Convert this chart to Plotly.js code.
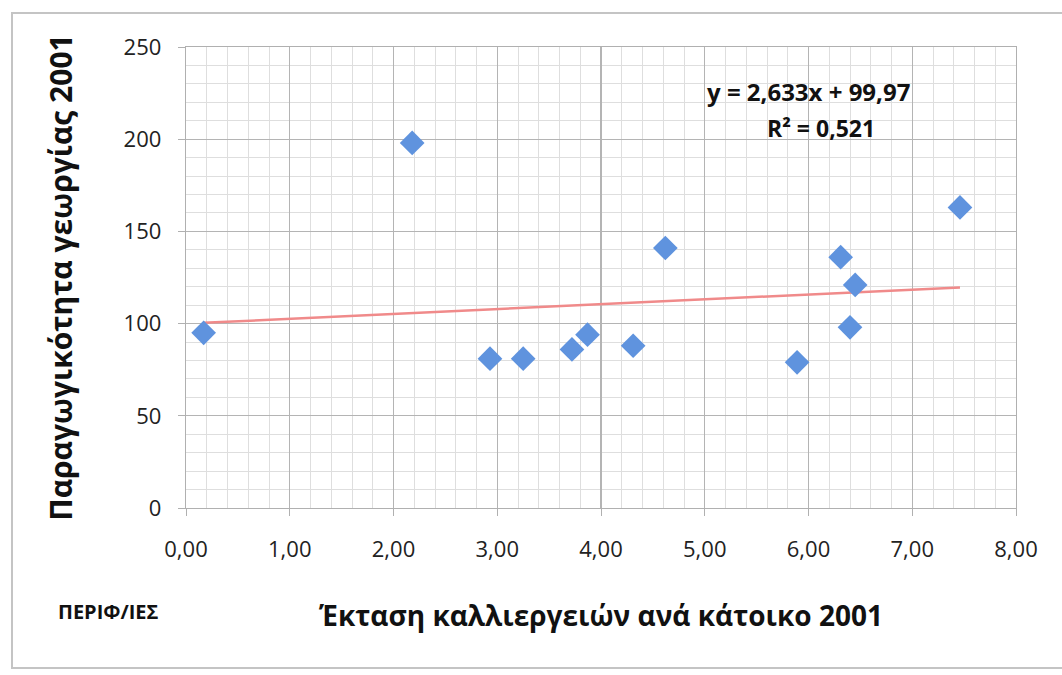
<!DOCTYPE html>
<html>
<head>
<meta charset="utf-8">
<script src="https://cdn.plot.ly/plotly-3.0.1.min.js"></script>
<style>
html,body{margin:0;padding:0;background:#fff;}
#chart{width:1062px;height:675px;}
</style>
</head>
<body>
<div id="chart"></div>
<script>
// Data
const areaPerResident = [0.17, 2.18, 2.93, 3.25, 3.72, 3.87, 4.31, 4.62, 5.89, 6.31, 6.45, 6.40, 7.46];
const productivity    = [95, 198, 81, 81, 86, 94, 88, 141, 79, 136, 121, 98, 163];
const trendSlope = 2.633;
const trendIntercept = 99.97;
const xTickVals = [0, 1, 2, 3, 4, 5, 6, 7, 8];
const xTickText = ["0,00", "1,00", "2,00", "3,00", "4,00", "5,00", "6,00", "7,00", "8,00"];
const yTickVals = [0, 50, 100, 150, 200, 250];
const equationText = "y = 2,633x + 99,97";
const r2Text = "R² = 0,521";
const xTitle = "Έκταση καλλιεργειών ανά κάτοικο 2001";
const yTitle = "Παραγωγικότητα γεωργίας 2001";
const cornerLabel = "ΠΕΡΙΦ/ΙΕΣ";

const xMin = Math.min(...areaPerResident);
const xMax = Math.max(...areaPerResident);
const trendX = [xMin, xMax];
const trendY = trendX.map(v => trendSlope * v + trendIntercept);

const FONT = "'Open Sans', 'Noto Sans', 'DejaVu Sans', sans-serif";

const traces = [
  {
    x: trendX, y: trendY, type: 'scatter', mode: 'lines',
    line: {color: '#f08a8a', width: 2.5},
    hoverinfo: 'skip', showlegend: false
  },
  {
    x: areaPerResident, y: productivity, type: 'scatter', mode: 'markers',
    marker: {symbol: 'diamond', size: 19, color: '#5f93de', line: {width: 0}},
    showlegend: false
  }
];

const layout = {
  width: 1062, height: 675,
  paper_bgcolor: '#ffffff', plot_bgcolor: '#ffffff',
  margin: {l: 186, r: 46, t: 47, b: 167},
  font: {family: FONT, color: '#222'},
  xaxis: {
    range: [0, 8], tickvals: xTickVals, ticktext: xTickText,
    showgrid: true, gridcolor: '#b4b4b4', gridwidth: 1.3,
    minor: {dtick: 0.2, showgrid: true, gridcolor: '#dedede', gridwidth: 1},
    zeroline: false, showline: true, linecolor: '#b0b0b0', linewidth: 1.3, mirror: true,
    ticks: 'outside', ticklen: 7, tickcolor: '#b0b0b0',
    ticklabelstandoff: 14,
    tickfont: {size: 22, family: FONT, color: '#222'},
    title: {text: xTitle, font: {size: 28, family: FONT, color: '#111', weight: 'bold'}, standoff: 44}
  },
  yaxis: {
    range: [0, 250], tickvals: yTickVals,
    showgrid: true, gridcolor: '#b4b4b4', gridwidth: 1.3,
    minor: {dtick: 10, showgrid: true, gridcolor: '#dedede', gridwidth: 1},
    zeroline: false, showline: true, linecolor: '#b0b0b0', linewidth: 1.3, mirror: true,
    ticks: 'outside', ticklen: 7, tickcolor: '#b0b0b0',
    ticklabelstandoff: 12,
    tickfont: {size: 22, family: FONT, color: '#222'},
    title: {text: yTitle, font: {size: 30, family: FONT, color: '#111', weight: 'bold'}, standoff: 42}
  },
  annotations: [
    {x: 6.0, y: 225.6, xref: 'x', yref: 'y', text: equationText, showarrow: false,
     font: {size: 24, family: FONT, color: '#111', weight: 'bold'}},
    {x: 6.12, y: 206, xref: 'x', yref: 'y', text: r2Text, showarrow: false,
     font: {size: 23, family: FONT, color: '#111', weight: 'bold'}},
    {x: 0, y: 0, xref: 'paper', yref: 'paper', xanchor: 'center', yanchor: 'middle',
     text: cornerLabel, showarrow: false,
     font: {size: 20, family: FONT, color: '#111', weight: 'bold'}}
  ],
  shapes: [
    {type: 'rect', xref: 'paper', yref: 'paper',
     x0: (12 - 186) / 830, x1: (1070 - 186) / 830,
     y0: (508 - 668) / 461, y1: (508 - 13) / 461,
     line: {color: '#c4c4c4', width: 2}, fillcolor: 'rgba(0,0,0,0)', layer: 'below'}
  ]
};

// convert the corner label pixel position to paper coordinates
layout.annotations[2].x = (108 - 186) / 830;
layout.annotations[2].y = (508 - 611) / 461;

Plotly.newPlot('chart', traces, layout, {staticPlot: true, displayModeBar: false});
</script>
</body>
</html>
